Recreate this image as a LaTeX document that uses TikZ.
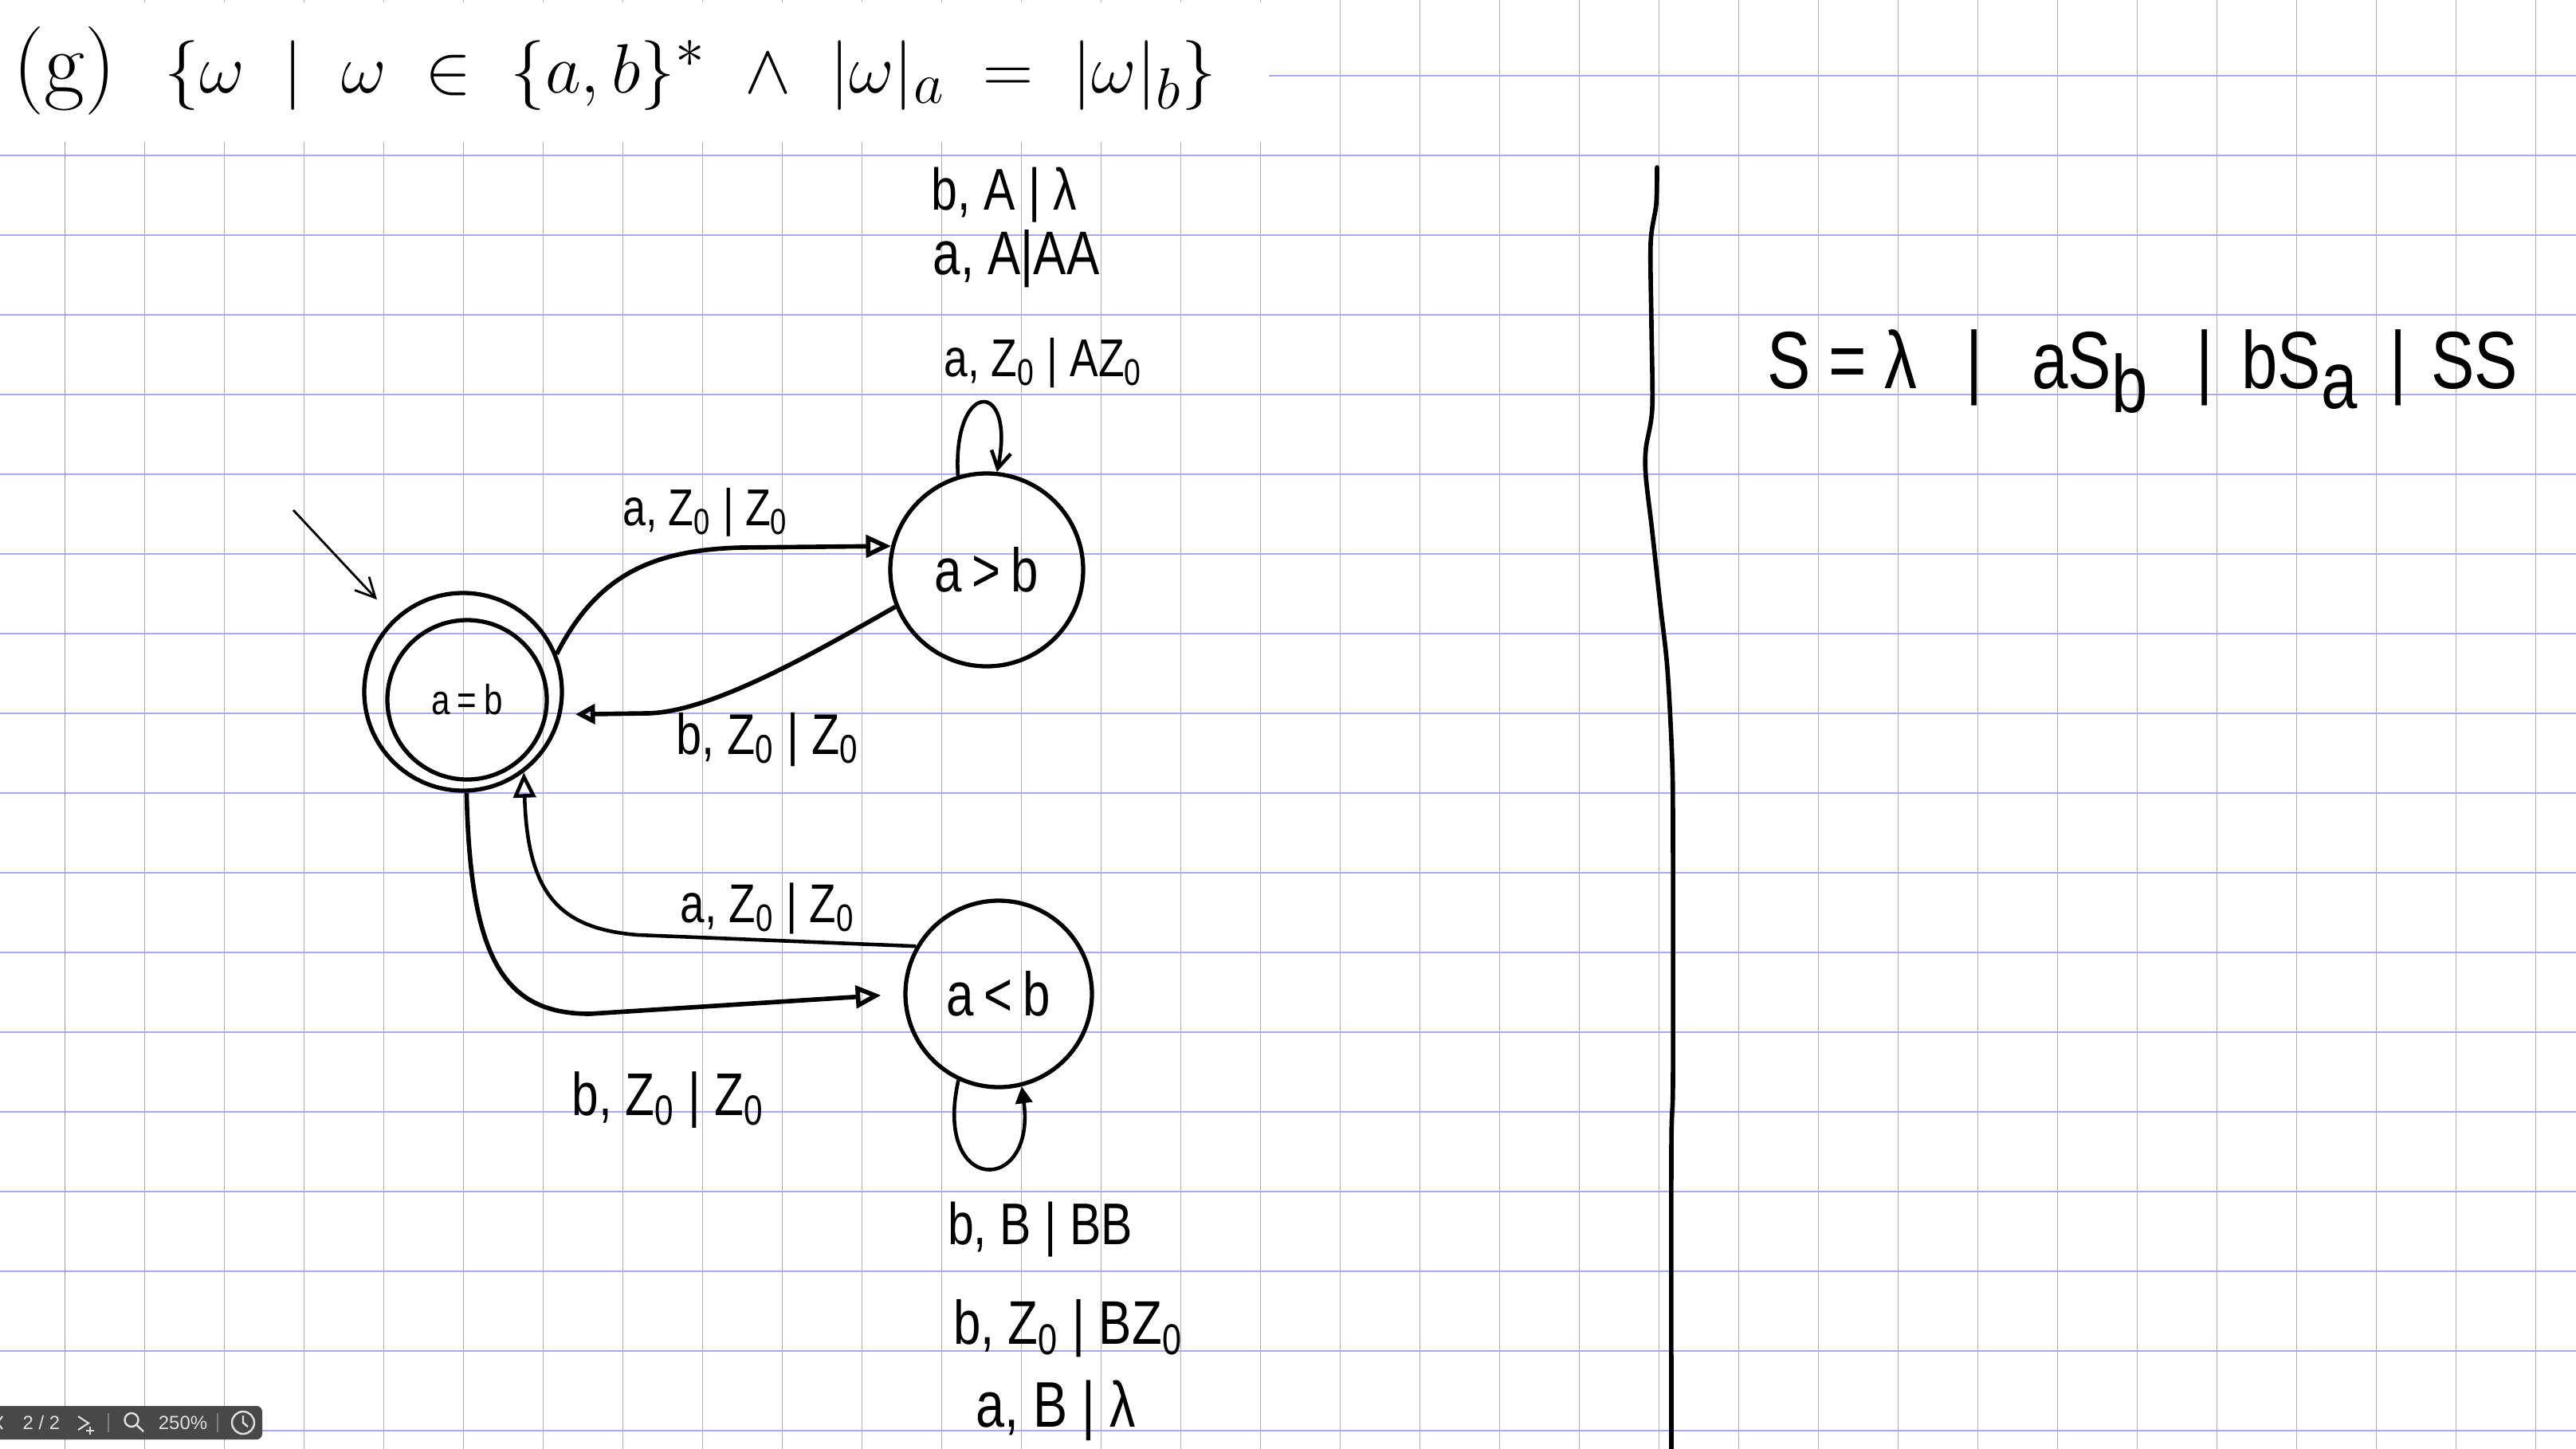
\documentclass[tikz,border=0pt]{standalone}
\usepackage{fontspec}
\usepackage{amsmath}
\usetikzlibrary{arrows.meta}
\newfontfamily\handfont{Liberation Sans}[FakeStretch=0.8]
\newfontfamily\uifont{Liberation Sans}
\definecolor{gridblue}{RGB}{168,168,245}
\definecolor{marginpink}{RGB}{212,120,165}
\definecolor{barbg}{RGB}{72,72,72}
\definecolor{bartext}{RGB}{222,222,222}
\definecolor{barsep}{RGB}{125,125,125}

\begin{document}
\begin{tikzpicture}[
  statebox/.style={circle,draw,line width=1.5pt,inner sep=0pt},
  edge/.style={line width=1.6pt,-{Triangle[open,length=9pt,width=8pt]}},
  loopedge/.style={line width=1.3pt},
  lbl/.style={font=\handfont\fontsize{#1}{#1}\selectfont,inner sep=0pt},
  gridline/.style={gridblue,line width=0.35pt},
  uitext/.style={font=\uifont\fontsize{6.8}{7}\selectfont,text=bartext,inner sep=0pt}
]
\useasboundingbox (0,0) rectangle (32.32,-18.18);
\fill[white] (0,0) rectangle (32.32,-18.18);

% ---- Paper grid ---------------------------------------------
\foreach \gx in {1.817,2.817,...,31.9}
  \draw[gridline] (\gx,0) -- (\gx,-18.18);
\foreach \gy in {-0.95,-1.95,...,-18.1}
  \draw[gridline] (0,\gy) -- (32.32,\gy);
\fill[white] (0,-0.03) rectangle (15.92,-1.78);
\draw[marginpink,line width=0.4pt] (0.817,-1.78) -- (0.817,-18.18);

% ---- Title --------------------------------------------------
\node[anchor=base west,inner sep=0pt,font=\fontsize{31.5}{36}\selectfont] (title) at (0.16,-1.16)
  {\thickmuskip=10mu\medmuskip=10mu(g)\hspace{0.55em}$\{\omega \mid \omega\in\{a,b\}^*\wedge|\omega|_a=|\omega|_b\}$};

% ---- States -------------------------------------------------
\node[statebox,minimum size=2.48cm] (q0) at (5.81,-8.68) {};
\node[statebox,minimum size=2.0cm,lbl=15] (q0in) at (5.86,-8.78) {a\,=\,b};
\node[statebox,minimum size=2.42cm,lbl=22] (q1) at (12.38,-7.15) {a\,>\,b};
\node[statebox,minimum size=2.34cm,lbl=22] (q2) at (12.53,-12.47) {a\,<\,b};

% ---- Transitions --------------------------------------------
\coordinate (init) at (3.68,-6.40);
\draw[line width=0.8pt,-{Straight Barb[length=7pt,width=7pt]},shorten >=9pt] (init) -- (q0.133);
\draw[edge] (q0.22) .. controls (7.5,-7.2) and (8.2,-6.9) .. (9.3,-6.87) -- (q1.166);
\draw[edge,-{Triangle[open,length=7pt,width=7pt]},shorten >=5pt] (q1.202) .. controls (10.2,-8.2) and (8.9,-8.95) .. (8.1,-8.95) -- (q0.-13);
\draw[edge,line width=1.3pt] (q2.150) -- (8.0,-11.73) .. controls (7.0,-11.65) and (6.62,-11.2) .. (q0.-53);
\draw[edge,shorten >=8pt] (q0.-88) .. controls (5.9,-12.0) and (6.3,-12.72) .. (7.4,-12.72) -- (q2.180);
\draw[loopedge,-{Straight Barb[length=6pt,width=7pt]}] (q1.107) .. controls (11.95,-4.75) and (12.75,-4.75) .. (q1.84);
\draw[loopedge,-{Triangle[length=6pt,width=6pt]}] (q2.245) .. controls (11.7,-15.0) and (13.0,-15.0) .. (q2.284);

% ---- Transition labels --------------------------------------
\node[lbl=21] (bAl)  at (12.60,-2.45) {b, A | λ};
\node[lbl=22] (aAAA) at (12.75,-3.25) {a, A|AA};
\node[lbl=19] (aZAZ) at (13.09,-4.55) {a, Z\textsubscript{0} | AZ\textsubscript{0}};
\node[lbl=18.5] (lab01) at (8.85,-6.43) {a, Z\textsubscript{0} | Z\textsubscript{0}};
\node[lbl=20.5] (lab10) at (9.63,-9.28) {b, Z\textsubscript{0} | Z\textsubscript{0}};
\node[lbl=19.5] (lab20) at (9.63,-11.40) {a, Z\textsubscript{0} | Z\textsubscript{0}};
\node[lbl=21.5] (lab02) at (8.38,-13.80) {b, Z\textsubscript{0} | Z\textsubscript{0}};
\node[lbl=21] (bBBB) at (13.05,-15.43) {b, B | BB};
\node[lbl=22] (bZBZ) at (13.40,-16.67) {b, Z\textsubscript{0} | BZ\textsubscript{0}};
\node[lbl=23] (aBl)  at (13.25,-17.70) {a, B | λ};

% ---- Divider and grammar ------------------------------------
\draw[line width=1.6pt,line cap=round] plot[smooth] coordinates {(20.79,-2.10) (20.78,-2.56) (20.71,-3.05)
  (20.72,-4.08) (20.73,-5.12) (20.65,-5.63) (20.65,-5.98) (20.73,-6.67) (20.83,-7.58) (20.92,-8.39)
  (20.98,-9.54) (20.99,-10.5) (20.99,-13.55) (20.97,-14.43) (20.97,-18.18)};
\node[lbl=29,anchor=base west] (gram) at (22.17,-4.87)
  {S = λ\hspace{0.6em}|\hspace{0.6em}aS\raisebox{-0.3em}{b}\hspace{0.6em}|\hspace{0.35em}bS\raisebox{-0.25em}{a}\hspace{0.4em}|\hspace{0.3em}SS};

% ---- Viewer toolbar -----------------------------------------
\fill[barbg,rounded corners=2pt] (-0.1,-17.64) rectangle (3.29,-18.06);
\draw[bartext,line width=0.6pt] (0.03,-17.77) -- (-0.03,-17.85) -- (0.03,-17.93);
\node[uitext] (pagenum) at (0.52,-17.85) {2 / 2};
\draw[bartext,line width=0.6pt] (0.98,-17.77) -- (1.11,-17.855) -- (0.98,-17.94);
\draw[bartext,line width=0.5pt] (1.08,-17.95) -- (1.18,-17.95) (1.13,-17.90) -- (1.13,-18.00);
\draw[barsep,line width=0.6pt] (1.36,-17.73) -- (1.36,-17.97);
\draw[bartext,line width=0.7pt] (1.65,-17.815) circle[radius=0.085] (1.71,-17.875) -- (1.80,-17.96);
\node[uitext] (zoomval) at (2.295,-17.85) {250\%};
\draw[barsep,line width=0.6pt] (2.73,-17.73) -- (2.73,-17.97);
\draw[bartext,line width=0.7pt] (3.05,-17.85) circle[radius=0.14] (3.05,-17.76) -- (3.05,-17.85) -- (3.11,-17.90);
\end{tikzpicture}
\end{document}
